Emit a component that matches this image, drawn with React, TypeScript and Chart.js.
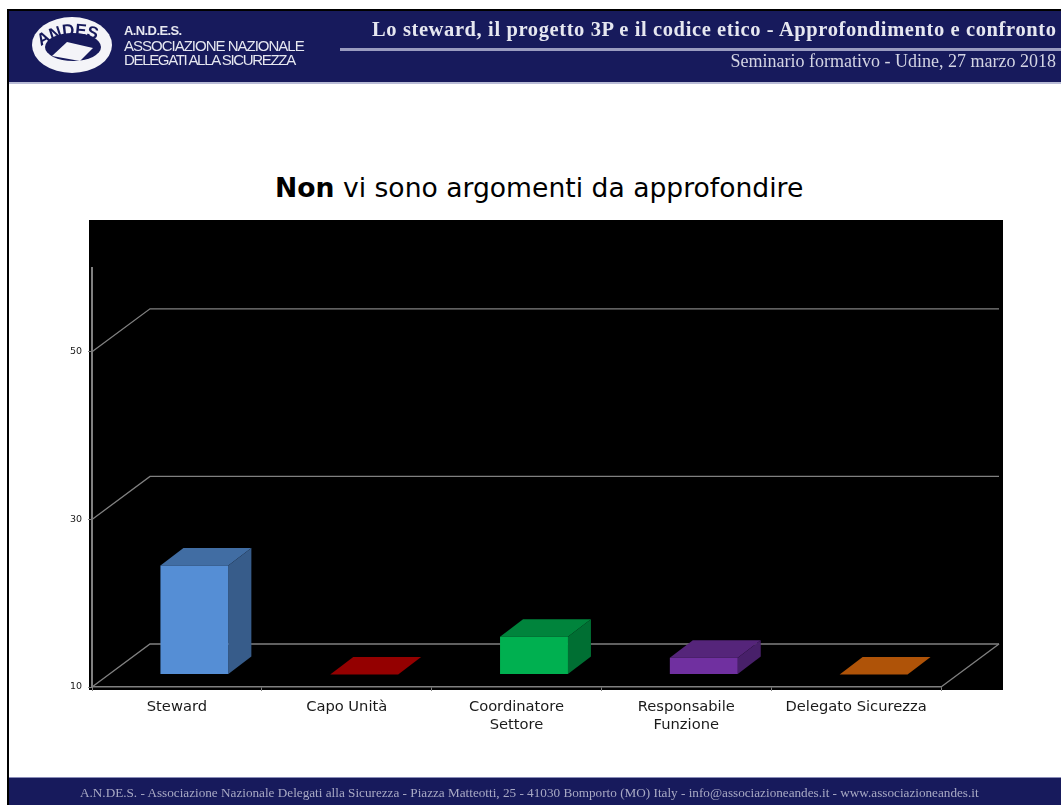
import React, { useEffect, useRef } from "react";
import { Chart, registerables } from "chart.js";

Chart.register(...registerables);

const categories = [
  "Steward",
  "Capo Unità",
  ["Coordinatore", "Settore"],
  ["Responsabile", "Funzione"],
  "Delegato Sicurezza",
];
const values = [23, 10, 14.5, 12, 10];
const frontColors = ["#558ED5", "#C00000", "#00B050", "#7030A0", "#E46C0A"];
const topColors = ["#416DA3", "#940000", "#00843C", "#55257A", "#AF5308"];
const sideColors = ["#375C8A", "#7D0000", "#006F33", "#48206A", "#954707"];
const yTickValues = [10, 30, 50];

const GRID = "#808080";
const WALL_DX = 58;
const WALL_DY = 43;
const BAR_SHIFT_X = 17.5;
const BAR_SHIFT_Y = 12.6;
const BAR_DX = 23;
const BAR_DY = 17.5;

const poly = (ctx: CanvasRenderingContext2D, pts: number[][], fill: string) => {
  ctx.beginPath();
  pts.forEach(([x, y], i) => (i ? ctx.lineTo(x, y) : ctx.moveTo(x, y)));
  ctx.closePath();
  ctx.fillStyle = fill;
  ctx.fill();
};

const wallPlugin = {
  id: "wall3d",
  beforeDatasetsDraw(chart: any) {
    const { ctx, chartArea: a, scales } = chart;
    ctx.save();
    ctx.strokeStyle = GRID;
    ctx.lineWidth = 1.3;
    for (const t of scales.y.ticks) {
      const y = scales.y.getPixelForValue(t.value);
      ctx.beginPath();
      ctx.moveTo(a.left, y);
      ctx.lineTo(a.left + WALL_DX, y - WALL_DY);
      ctx.lineTo(a.right + WALL_DX, y - WALL_DY);
      ctx.stroke();
    }
    ctx.beginPath();
    ctx.moveTo(a.right, a.bottom);
    ctx.lineTo(a.right + WALL_DX, a.bottom - WALL_DY);
    ctx.stroke();
    ctx.restore();
  },
};

const barPlugin = {
  id: "bar3d",
  beforeDatasetDraw(chart: any, args: any) {
    const { ctx } = chart;
    ctx.save();
    ctx.translate(BAR_SHIFT_X, -BAR_SHIFT_Y);
    args.meta.data.forEach((bar: any, i: number) => {
      const l = bar.x - bar.width / 2;
      const r = bar.x + bar.width / 2;
      const t = bar.y;
      const b = bar.base;
      poly(ctx, [[l, t], [r, t], [r + BAR_DX, t - BAR_DY], [l + BAR_DX, t - BAR_DY]], topColors[i]);
      if (b - t > 0.5) {
        poly(ctx, [[r, t], [r + BAR_DX, t - BAR_DY], [r + BAR_DX, b - BAR_DY], [r, b]], sideColors[i]);
      }
    });
  },
  afterDatasetDraw(chart: any) {
    chart.ctx.restore();
  },
};

const abs = (o: React.CSSProperties): React.CSSProperties => ({ position: "absolute", whiteSpace: "nowrap", ...o });

export default function App() {
  const ref = useRef<HTMLCanvasElement | null>(null);
  useEffect(() => {
    const chart = new Chart(ref.current as HTMLCanvasElement, {
      type: "bar",
      data: {
        labels: categories as any,
        datasets: [
          {
            data: values,
            base: yTickValues[0],
            backgroundColor: frontColors,
            borderWidth: 0,
            barPercentage: 0.4,
            categoryPercentage: 1,
          },
        ],
      },
      options: {
        animation: false,
        responsive: false,
        layout: { padding: { left: 0, right: 120, top: 268, bottom: 0 } },
        plugins: { legend: { display: false }, tooltip: { enabled: false }, title: { display: false } },
        scales: {
          x: {
            afterFit: (s: any) => {
              s.height = 118;
            },
            border: { display: true, color: GRID, width: 1.5 },
            grid: { display: true, drawOnChartArea: false, drawTicks: true, tickLength: 4, color: GRID },
            ticks: {
              color: "#1a1a1a",
              font: { family: "'DejaVu Sans'", size: 14.7, lineHeight: 1.22 },
              maxRotation: 0,
              autoSkip: false,
              padding: 7,
            },
          },
          y: {
            min: 10,
            max: 60,
            afterFit: (s: any) => {
              s.width = 92;
            },
            afterBuildTicks: (s: any) => {
              s.ticks = yTickValues.map((value) => ({ value }));
            },
            border: { display: true, color: GRID, width: 2 },
            grid: { display: true, drawOnChartArea: false, drawTicks: true, tickLength: 4, color: GRID },
            ticks: {
              color: "#1a1a1a",
              font: { family: "'DejaVu Sans'", size: 9.5 },
              padding: 6,
            },
          },
        },
      },
      plugins: [wallPlugin, barPlugin],
    } as any);
    return () => chart.destroy();
  }, []);

  const white = "#E6E7F0";
  return (
    <div style={{ position: "fixed", left: 0, top: 0, width: 1061, height: 805, overflow: "hidden", background: "#fff" }}>
      <div style={abs({ left: 7, top: 9, width: 2, height: 796, background: "#000" })} />
      <div style={abs({ left: 7, top: 9, width: 1054, height: 2, background: "#000" })} />
      <div style={abs({ left: 9, top: 11, width: 1052, height: 71, background: "#171A5C" })} />
      <div style={abs({ left: 9, top: 82, width: 1052, height: 2, background: "#B9BCD6" })} />
      <div style={abs({ left: 9, top: 777, width: 1052, height: 28, background: "#171A5C", borderTop: "1px solid #8a8db8", boxSizing: "border-box" })} />

      <svg width={120} height={80} style={{ position: "absolute", left: 0, top: 5, filter: "blur(0.5px)" }}>
        <defs>
          <path id="logoArc" d="M 36 45 Q 70 19 108 40" fill="none" />
        </defs>
        <ellipse cx={72} cy={40} rx={40} ry={28} fill="#F4F4F8" />
        <ellipse cx={73} cy={42} rx={28} ry={14} fill="#171A5C" />
        <polygon points="52,51 67,37 93,43 80,56" fill="#F4F4F8" />
        <text fontFamily="'Liberation Sans'" fontWeight="bold" fontSize={17} fill="#171A5C" letterSpacing={-0.3}>
          <textPath href="#logoArc" startOffset="6">ANDES</textPath>
        </text>
      </svg>

      <div style={abs({ left: 124, top: 23, color: white, font: "bold 13px 'Liberation Sans'", letterSpacing: -0.6, filter: "blur(0.3px)" })}>A.N.D.E.S.</div>
      <div style={abs({ left: 124, top: 37, color: white, font: "15px 'Liberation Sans'", letterSpacing: -1, filter: "blur(0.3px)" })}>ASSOCIAZIONE NAZIONALE</div>
      <div style={abs({ left: 124, top: 51, color: white, font: "15px 'Liberation Sans'", letterSpacing: -1.33, filter: "blur(0.3px)" })}>DELEGATI ALLA SICUREZZA</div>

      <div style={abs({ left: 372, top: 18, color: white, font: "bold 20.5px 'Liberation Serif'", letterSpacing: 0.61, filter: "blur(0.4px)" })}>
        Lo steward, il progetto 3P e il codice etico - Approfondimento e confronto
      </div>
      <div style={abs({ left: 340, top: 48, width: 721, height: 3, background: "#9A9CC0" })} />
      <div style={abs({ right: 5, top: 51, color: "#D4D5E4", font: "18px 'Liberation Serif'", filter: "blur(0.4px)" })}>
        Seminario formativo - Udine, 27 marzo 2018
      </div>

      <div style={abs({ left: 275, top: 172, color: "#000", font: "26.6px 'DejaVu Sans'" })}>
        <b>Non</b> vi sono argomenti da approfondire
      </div>

      <div style={abs({ left: 89, top: 220, width: 914, height: 470, background: "#000" })} />

      <div style={abs({ left: 80, top: 785, color: "#A8A9C4", font: "13.2px 'Liberation Serif'", filter: "blur(0.6px)" })}>
        A.N.DE.S. - Associazione Nazionale Delegati alla Sicurezza - Piazza Matteotti, 25 - 41030 Bomporto (MO) Italy - info@associazioneandes.it - www.associazioneandes.it
      </div>

      <canvas ref={ref} width={1061} height={805} style={{ position: "absolute", left: 0, top: 0, display: "block" }} />
    </div>
  );
}
